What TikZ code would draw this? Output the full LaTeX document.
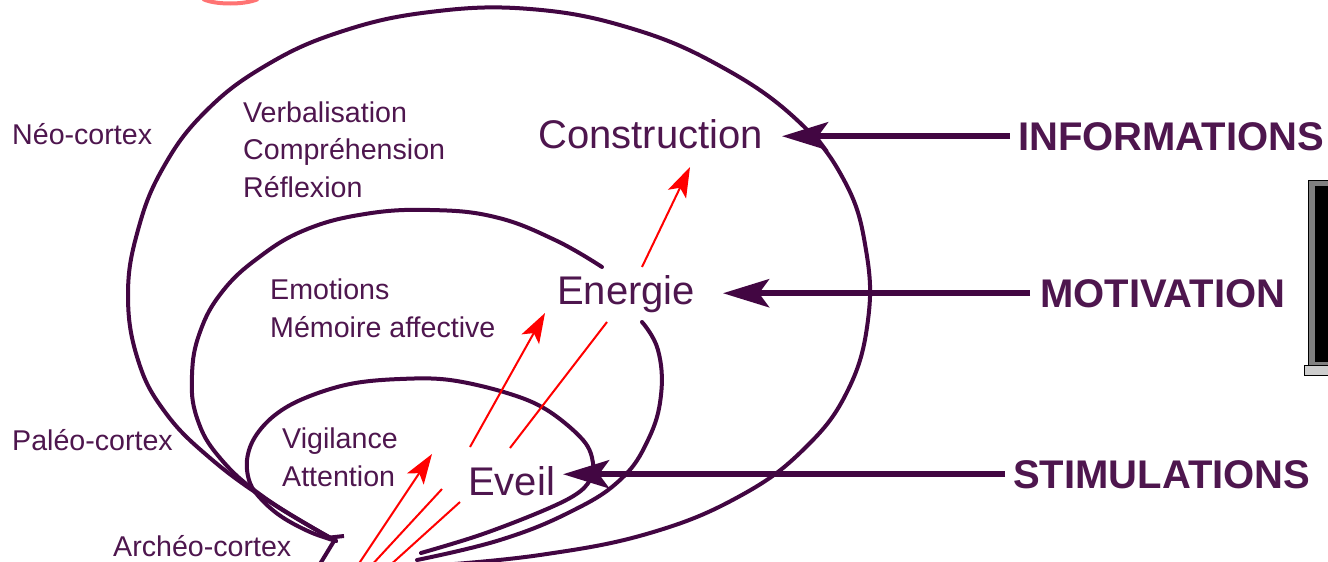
\documentclass[tikz,border=0pt]{standalone}
\usepackage{fontspec}
\setmainfont{Liberation Sans}
\usetikzlibrary{arrows.meta}
\definecolor{plum}{RGB}{66,6,66}
\definecolor{plumtext}{RGB}{78,22,78}
\definecolor{framegray}{RGB}{128,128,128}
\definecolor{basegray}{RGB}{205,205,205}
\begin{document}
\begin{tikzpicture}[x=1pt,y=-1pt,
  loopline/.style={draw=plum, line width=4pt, line join=round, line cap=round},
  feed/.style={draw=plum, line width=6pt, -{Stealth[length=46pt,width=28pt,inset=10pt]}},
  spark/.style={draw=red, line width=2pt},
  sparkhead/.style={spark, -{Stealth[length=30pt,width=20pt,inset=7pt]}},
  lbl/.style={text=plumtext, font=\fontsize{28.6}{34}\selectfont, anchor=base west, inner sep=0pt},
  big/.style={text=plumtext, font=\fontsize{40}{48}\selectfont, anchor=base west, inner sep=0pt},
  src/.style={text=plumtext, font=\fontsize{40}{48}\selectfont\bfseries, anchor=base west, inner sep=0pt}]

\useasboundingbox[fill=white] (0,0) rectangle (1328,562);
\clip (0,0) rectangle (1328,562);

% red shape cut by the top edge
\draw[red!55, line width=4pt] (203,-1) .. controls (215,5) and (245,5) .. (258,-1);

% screen at the right edge
\filldraw[draw=black, fill=framegray, line width=1pt] (1308,180) rectangle (1340,365);
\fill[black] (1315,186) rectangle (1340,362);
\filldraw[draw=black, fill=basegray, line width=1pt] (1304,365) rectangle (1340,375);

% néo-cortex loop
\draw[loopline] plot[smooth, tension=0.7] coordinates {
  (428,566) (540,555) (650,533) (740,496) (805,448) (848,390) (868,320)
  (866,250) (845,182) (797,120) (720,66) (630,28) (530,9) (430,12) (340,32)
  (265,66) (205,112) (163,168) (138,230) (128,295) (138,360) (165,412)
  (210,458) (270,502) (336,541)};

% paléo-cortex loop, interrupted by the Energie label
\draw[loopline] plot[smooth, tension=0.7] coordinates {
  (417,560) (500,540) (570,512) (620,480) (648,440) (661,395) (658,350)
  (642,322)};
\draw[loopline] plot[smooth, tension=0.7] coordinates {
  (602,267) (555,240) (495,217) (430,210) (365,214) (305,230) (258,258)
  (222,292) (200,332) (192,375) (197,418) (220,458) (265,498) (336,541)};

% archéo-cortex loop
\draw[loopline] plot[smooth, tension=0.6] coordinates {
  (421,553) (480,535) (540,512) (575,495) (590,480) (593,463) (583,440)
  (547,410) (507,393) (450,380) (400,379) (350,384) (305,398) (275,415)
  (255,437) (247,460) (250,483) (262,500) (282,517) (310,532) (336,541)};

% bar where the three loops meet
\draw[plum, line width=4pt] (326,538) -- (344,536);
\draw[plum, line width=4pt] (334,541) -- (320,564);

% labels
\node[lbl] (neo) at (12,144) {Néo-cortex};
\node[lbl] (paleo) at (12,450) {Paléo-cortex};
\node[lbl] (archeo) at (113,556) {Archéo-cortex};
\node[lbl] (verb) at (243,122) {Verbalisation};
\node[lbl] (compr) at (243,159.5) {Compréhension};
\node[lbl] (refl) at (243,197) {Réflexion};
\node[lbl] (emo) at (270,299) {Emotions};
\node[lbl] (memo) at (270,337) {Mémoire affective};
\node[lbl] (vigi) at (282,448) {Vigilance};
\node[lbl] (atten) at (282,486) {Attention};

\node[big] (constr) at (538,148) {Construction};
\node[big] (energ) at (557,304) {Energie};
\node[big] (eveil) at (468,495) {Eveil};

\node[src] (info) at (1018,150) {INFORMATIONS};
\node[src] (motiv) at (1040,307) {MOTIVATION};
\node[src] (stim) at (1013,488) {STIMULATIONS};

% incoming arrows
\coordinate (infotip) at (782,136);
\coordinate (motivtip) at (723,293);
\coordinate (stimtip) at (563,474);
\draw[feed] ([xshift=-8pt]info.west) -- (infotip |- info.west);
\draw[feed] ([xshift=-10pt]motiv.west) -- (motivtip |- motiv.west);
\draw[feed] ([xshift=-8pt]stim.west) -- (stimtip |- stim.west);

% red rising arrows
\coordinate (r1a) at (356,568);
\coordinate (r1b) at (432,454);
\coordinate (r2a) at (369,568);
\coordinate (r2b) at (442,489);
\coordinate (r2c) at (470,447);
\coordinate (r2d) at (545,313);
\coordinate (r3a) at (387,568);
\coordinate (r3b) at (460,502);
\coordinate (r3c) at (510,448);
\coordinate (r3d) at (607,322);
\coordinate (r3e) at (642,267);
\coordinate (r3f) at (690,167);
\draw[sparkhead] (r1a) -- (r1b);
\draw[spark] (r2a) -- (r2b);
\draw[sparkhead] (r2c) -- (r2d);
\draw[spark] (r3a) -- (r3b);
\draw[spark] (r3c) -- (r3d);
\draw[sparkhead] (r3e) -- (r3f);
\end{tikzpicture}
\end{document}
